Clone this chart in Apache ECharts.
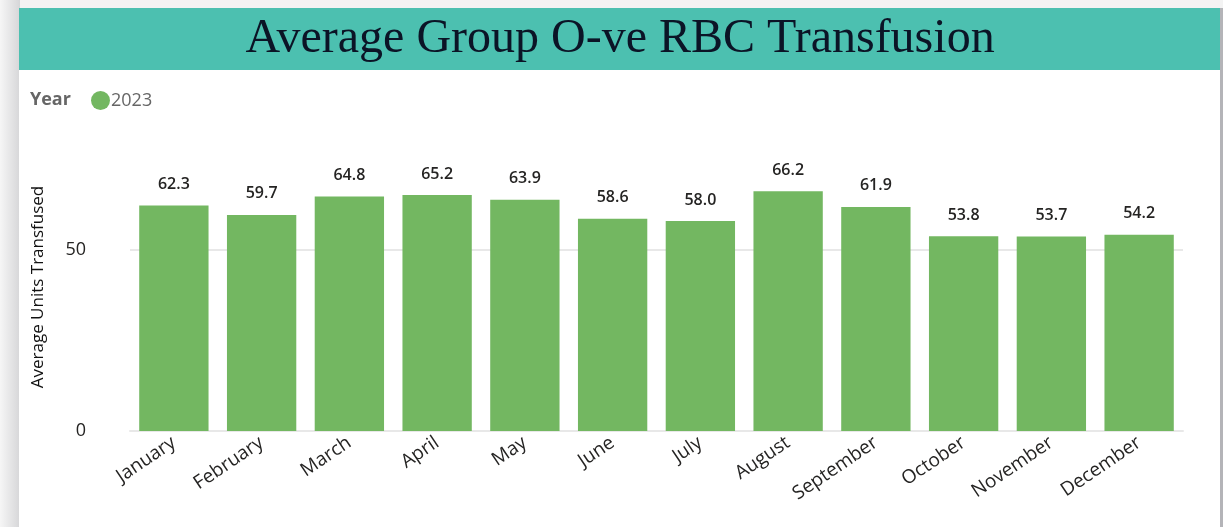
<!DOCTYPE html>
<html>
<head>
<meta charset="utf-8">
<script src="https://cdn.jsdelivr.net/npm/echarts@6/dist/echarts.min.js"></script>
<style>
  html, body { margin: 0; padding: 0; background: #f3f3f3; }
  #chart { width: 1223px; height: 527px; }
</style>
</head>
<body>
<div id="chart"></div>
<script>
  // data
  var months = ['January', 'February', 'March', 'April', 'May', 'June', 'July',
    'August', 'September', 'October', 'November', 'December'];
  var avgUnits = [62.3, 59.7, 64.8, 65.2, 63.9, 58.6, 58.0, 66.2, 61.9, 53.8, 53.7, 54.2];
  var seriesName = '2023';

  var myChart = echarts.init(document.getElementById('chart'));
  var option = {
    backgroundColor: '#f3f3f3',
    animation: false,
    graphic: [
      // left shadow strip
      {
        type: 'rect', z: -10, silent: true,
        shape: { x: 0, y: 0, width: 20, height: 527 },
        style: {
          fill: new echarts.graphic.LinearGradient(0, 0, 1, 0, [
            { offset: 0, color: '#f6f6f6' },
            { offset: 1, color: '#d6d6d8' }
          ])
        }
      },
      // white panel
      {
        type: 'rect', z: -9, silent: true,
        shape: { x: 19, y: 8, width: 1201, height: 519 },
        style: { fill: '#ffffff' }
      },
      // right edge bar
      {
        type: 'rect', z: -9, silent: true,
        shape: { x: 1220, y: 8, width: 3, height: 519 },
        style: { fill: '#b4b4b8' }
      },
      // teal header
      {
        type: 'rect', z: 1, silent: true,
        shape: { x: 19, y: 8, width: 1201, height: 62 },
        style: { fill: '#4cc0b0' }
      },
      {
        type: 'text', z: 2, silent: true,
        x: 620, y: 39,
        style: {
          text: 'Average Group O-ve RBC Transfusion',
          font: '48px "Liberation Serif", serif',
          fill: '#0b1426',
          align: 'center',
          verticalAlign: 'middle'
        }
      },
      {
        type: 'text', z: 2, silent: true,
        x: 30, y: 100,
        style: {
          text: 'Year',
          font: 'bold 18px "Open Sans", sans-serif',
          fill: '#666666',
          verticalAlign: 'middle'
        }
      },
      // y axis title, centred on the visible plot area
      {
        type: 'text', z: 2, silent: true,
        x: 38, y: 287,
        rotation: Math.PI / 2,
        style: {
          text: 'Average Units Transfused',
          font: '17px "Open Sans", sans-serif',
          fill: '#111111',
          align: 'center',
          verticalAlign: 'middle'
        }
      }
    ],
    legend: {
      left: 86,
      top: 86,
      icon: 'circle',
      itemWidth: 19,
      itemHeight: 19,
      itemGap: 4,
      textStyle: {
        color: '#666666',
        fontSize: 18,
        fontFamily: '"Open Sans", sans-serif',
        padding: [0, 0, 0, -4]
      },
      data: [seriesName]
    },
    grid: {
      left: 130,
      right: 40,
      top: 69,
      bottom: 96,
      containLabel: false
    },
    xAxis: {
      type: 'category',
      data: months,
      axisLine: { show: true, lineStyle: { color: '#e8e8e8', width: 2 } },
      axisTick: { show: false },
      axisLabel: {
        rotate: 34,
        margin: 10,
        color: '#252423',
        fontSize: 19,
        fontFamily: '"Open Sans", sans-serif',
        interval: 0
      }
    },
    yAxis: {
      type: 'value',
      min: 0,
      max: 100,
      interval: 50,
      axisLine: { show: false },
      axisTick: { show: false },
      axisLabel: {
        showMaxLabel: false,
        margin: 44,
        color: '#252423',
        fontSize: 18,
        fontFamily: '"Open Sans", sans-serif'
      },
      splitLine: {
        showMaxLine: false,
        lineStyle: { color: '#e8e8e8', width: 2 }
      }
    },
    series: [{
      name: seriesName,
      type: 'bar',
      data: avgUnits,
      barCategoryGap: '21%',
      itemStyle: { color: '#73b761' },
      label: {
        show: true,
        position: 'top',
        distance: 13,
        color: '#252423',
        fontSize: 16,
        fontWeight: 600,
        fontFamily: '"Open Sans", sans-serif',
        formatter: function (p) { return p.value.toFixed(1); }
      }
    }]
  };
  myChart.setOption(option);
</script>
</body>
</html>
